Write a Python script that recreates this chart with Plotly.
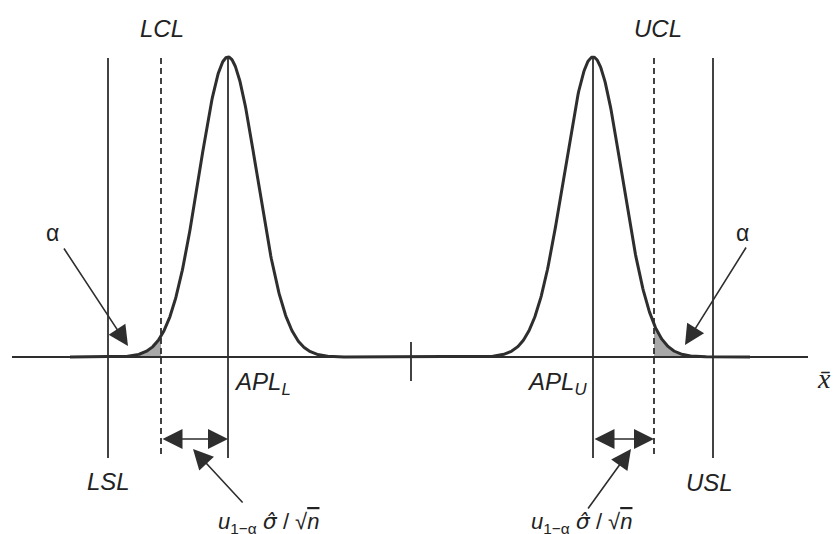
import numpy as np
import plotly.graph_objects as go

# ---- diagram parameters (in pixel-like units) ----
axis_y = 357.0          # baseline of the x-bar axis
axis_x = [12, 808]
peak_height = 300.0
means = [228.0, 593.0]  # APL_L, APL_U
sigma = 29.0
curve_span = [70, 750]
spec_limits = [108.0, 713.0]     # LSL, USL
control_limits = [161.0, 654.0]  # LCL, UCL
line_top, line_bottom = 58.0, 458.0
center_tick = 411.0
shade_ranges = [(108.0, 161.0), (654.0, 713.0)]

INK = "#2e2e2e"
FONT = "Liberation Sans, Arial, sans-serif"

def curve(x):
    y = np.zeros_like(x)
    for m in means:
        y += peak_height * np.exp(-0.5 * ((x - m) / sigma) ** 2)
    return axis_y - y

fig = go.Figure()

# shaded tails
for a, b in shade_ranges:
    xs = np.linspace(a, b, 60)
    px = np.concatenate([xs, [b, a]])
    py = np.concatenate([curve(xs), [axis_y, axis_y]])
    fig.add_trace(go.Scatter(x=px, y=py, fill="toself", fillcolor="#a8a8a8",
                             line=dict(width=0), mode="lines", hoverinfo="skip"))

# axis
fig.add_trace(go.Scatter(x=axis_x, y=[axis_y, axis_y], mode="lines",
                         line=dict(color=INK, width=1.8), hoverinfo="skip"))

# vertical lines
for xv in spec_limits + means:
    fig.add_trace(go.Scatter(x=[xv, xv], y=[line_top, line_bottom], mode="lines",
                             line=dict(color=INK, width=1.8), hoverinfo="skip"))
for xv in control_limits:
    fig.add_trace(go.Scatter(x=[xv, xv], y=[line_top, line_bottom], mode="lines",
                             line=dict(color=INK, width=1.8, dash="6px,4px"), hoverinfo="skip"))
# center tick
fig.add_trace(go.Scatter(x=[center_tick, center_tick], y=[342, 381], mode="lines",
                         line=dict(color=INK, width=1.8), hoverinfo="skip"))

# density curve
xc = np.linspace(curve_span[0], curve_span[1], 1200)
fig.add_trace(go.Scatter(x=xc, y=curve(xc), mode="lines",
                         line=dict(color=INK, width=3.0), hoverinfo="skip"))

ann = []
def label(x, y, text, size=24, xanchor="center", family=FONT):
    ann.append(dict(x=x, y=y, text=text, showarrow=False, xanchor=xanchor, yanchor="middle",
                    font=dict(family=family, size=size, color="#222222")))

label(162, 28, "<i>LCL</i>")
label(658, 28, "<i>UCL</i>")
label(108, 481, "<i>LSL</i>")
label(709, 482, "<i>USL</i>")
label(232, 383, "<i>APL</i><sub><i>L</i></sub>", xanchor="left")
label(589, 383, "<i>APL</i><sub><i>U</i></sub>", xanchor="right")
label(52, 233, "α", size=23)
label(742, 233, "α", size=23)
label(824, 378, "<i>x̄</i>", size=28, family="Liberation Serif, Times New Roman, serif")
bottom_text = ("<i>u</i><sub>1−α</sub> <span style='font-family:DejaVu Sans'><i>σ̂</i></span>"
               " / √<span style='text-decoration:overline'><i>n</i></span>")
label(268, 523, bottom_text, size=22)
label(581, 523, bottom_text, size=22)

def arrow(x0, y0, x1, y1, side="end"):
    ann.append(dict(x=x1, y=y1, ax=x0, ay=y0, xref="x", yref="y", axref="x", ayref="y",
                    text="", showarrow=True, arrowhead=2, arrowsize=2.5, arrowwidth=1.6,
                    arrowcolor=INK, arrowside=side, startarrowhead=2, startarrowsize=2.5))

arrow(63, 247, 128, 346)
arrow(747, 246, 685, 345)
arrow(244, 504, 193, 449)
arrow(587, 510, 631, 449)
arrow(161, 439, 228, 439, side="end+start")
arrow(593, 439, 654, 439, side="end+start")

fig.update_layout(
    width=834, height=534, margin=dict(l=0, r=0, t=0, b=0),
    paper_bgcolor="white", plot_bgcolor="white", showlegend=False,
    xaxis=dict(range=[0, 834], visible=False, fixedrange=True),
    yaxis=dict(range=[534, 0], visible=False, fixedrange=True),
    annotations=ann,
)
fig.write_html("out.html")
